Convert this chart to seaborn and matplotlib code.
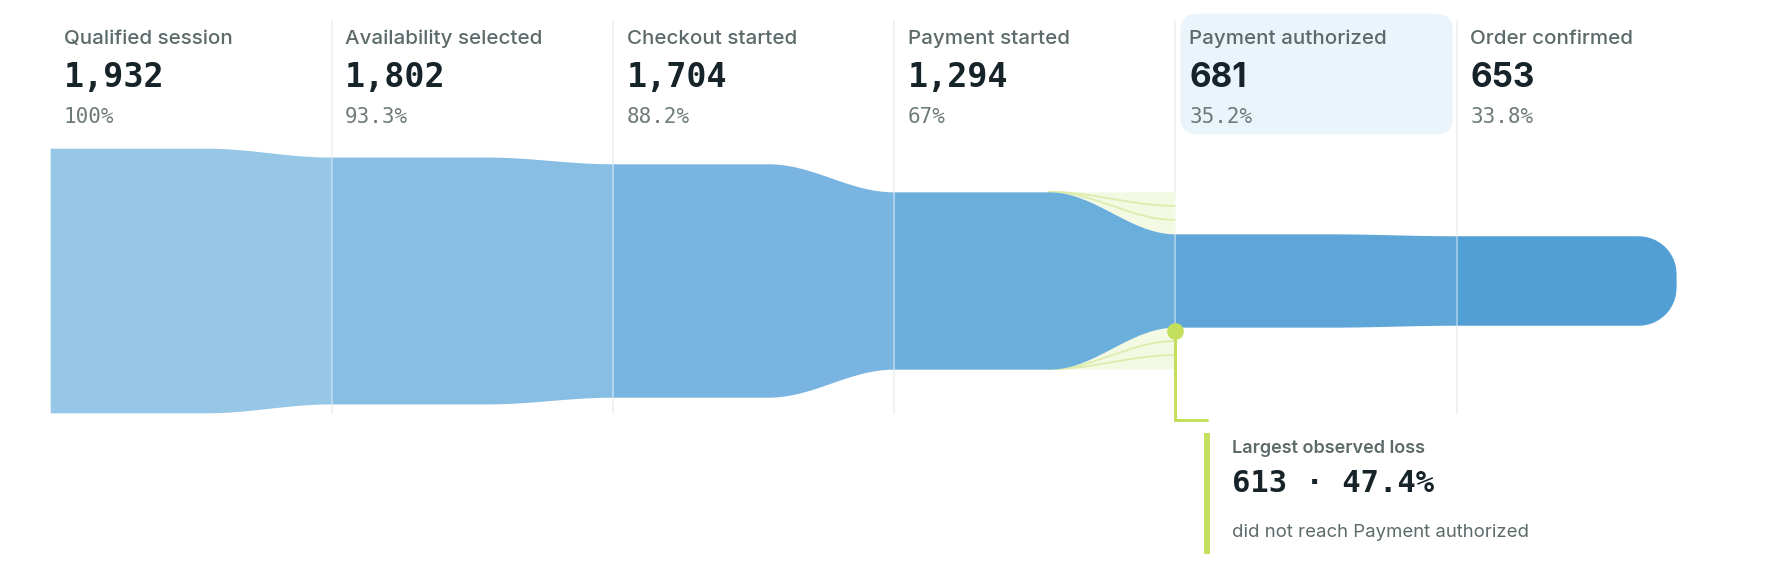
"""
Booking funnel: stage counts with the largest drop-off highlighted
"""
import numpy as np
import matplotlib
matplotlib.use('Agg')
import matplotlib.pyplot as plt
import matplotlib.transforms as mtransforms
from matplotlib.patches import FancyBboxPatch
import seaborn as sns


stages = ['Qualified session', 'Availability selected', 'Checkout started',
          'Payment started', 'Payment authorized', 'Order confirmed']
counts = [1932, 1802, 1704, 1294, 681, 653]
band_colors = ['#97c7e7', '#88bee3', '#79b5e0', '#6aaedb', '#5ea6d8', '#529fd6']
mono_numbers = [True, True, True, True, False, False]

sns.set_style("white")
plt.rcParams['font.family'] = ['Inter', 'DejaVu Sans']

W, H, DPI = 1788, 570, 100
COL = 281.3           # px per stage
X0 = 50.2             # px, left edge of the funnel
YC = 280.5            # px, centre line of the funnel
PX_PER_COUNT = 0.137
TURN = 0.55           # where the taper to the next stage starts

LABEL = '#5c6a6a'
NUMBER = '#16242a'
SHARE = '#6f7b7b'
LOSS_FILL = '#f3f9e3'
LOSS_LINE = '#dcedae'
LIME = '#c4df5c'


def xd(px):
    return (px - X0) / COL


def yd(px):
    return (YC - px) / PX_PER_COUNT


def ease(t):
    return 0.5 - 0.5 * np.cos(np.pi * t)


fig = plt.figure(figsize=(W / DPI, H / DPI), dpi=DPI)
ax = fig.add_axes([0, 0, 1, 1])
ax.set_xlim(xd(0), xd(W))
ax.set_ylim(yd(H), yd(0))
ax.axis('off')

# pixel transform (y from top) for the rounded highlight box
px = mtransforms.Affine2D().scale(1 / DPI, -1 / DPI).translate(0, H / DPI) + fig.dpi_scale_trans

n = len(counts)
drops = -np.diff(counts)
k = int(np.argmax(drops))          # stage before the biggest loss
hi = k + 1

# highlight behind the stage that follows the largest loss
box = FancyBboxPatch((X0 + hi * COL + 5, 13.7), COL - 9, 120.8,
                     boxstyle='round,pad=0,rounding_size=17',
                     transform=px, facecolor='#eaf4fb', edgecolor='none', zorder=0)
ax.add_patch(box)

# funnel bands
for i in range(n):
    half = counts[i] / 2
    if i < n - 1:
        x = np.linspace(i, i + 1, 300)
        t = np.clip((x - i - TURN) / (1 - TURN), 0, 1)
        h = half + (counts[i + 1] / 2 - half) * ease(t)
    else:
        end = i + 0.78
        rx = 38 / COL
        ry = 38 / PX_PER_COUNT
        x = np.linspace(i, end, 400)
        d = np.clip((x - (end - rx)) / rx, 0, 1)
        h = half - ry + ry * np.sqrt(1 - d ** 2)
    ax.fill_between(x, -h, h, color=band_colors[i], lw=0, zorder=2)

# loss wedge around the biggest drop
x = np.linspace(k + TURN, k + 1, 200)
t = (x - k - TURN) / (1 - TURN)
hk, hn = counts[k] / 2, counts[k + 1] / 2
edge = hk + (hn - hk) * ease(t)
ax.fill_between(x, edge, hk, color=LOSS_FILL, lw=0, zorder=1)
ax.fill_between(x, -hk, -edge, color=LOSS_FILL, lw=0, zorder=1)
for f in (1 / 3, 2 / 3):
    y = hk - (hk - hn) * f * ease(t)
    sns.lineplot(x=x, y=y, ax=ax, color=LOSS_LINE, lw=1.3, zorder=1.5)
    sns.lineplot(x=x, y=-y, ax=ax, color=LOSS_LINE, lw=1.3, zorder=1.5)

# stage separators
for i in range(1, n):
    ax.plot([i, i], [yd(21), yd(413)], color='#e2e7ea', lw=1.1, zorder=0.5)
    ax.plot([i, i], [yd(21), yd(413)], color='white', alpha=0.45, lw=1.1, zorder=3)

# stage headers
for i, (name, c) in enumerate(zip(stages, counts)):
    x = i + 13.7 / COL
    share = c / counts[0] * 100
    share_txt = f'{share:.1f}'.rstrip('0').rstrip('.') + '%'
    ax.text(x, yd(44), name, fontsize=14.8, color=LABEL, fontweight='medium',
            ha='left', va='baseline', zorder=4)
    fam = 'DejaVu Sans Mono' if mono_numbers[i] else 'Inter'
    ax.text(x, yd(87), f'{c:,}', fontsize=24, color=NUMBER, fontweight='bold',
            family=fam, ha='left', va='baseline', zorder=4)
    ax.text(x, yd(123), share_txt, fontsize=15, color=SHARE, family='DejaVu Sans Mono',
            ha='left', va='baseline', zorder=4)

# callout for the largest loss
ax.plot([hi], [-hn - 4 / PX_PER_COUNT], 'o', color=LIME, ms=12, mec='none', zorder=5)
ax.plot([hi, hi, xd(1207)], [-hn, yd(420), yd(420)], color=LIME, lw=2.2,
        solid_joinstyle='miter', zorder=4)
ax.plot([xd(1207), xd(1207)], [yd(433), yd(554)], color=LIME, lw=4.3,
        solid_capstyle='butt', zorder=4)

loss = drops[k]
loss_share = loss / counts[k] * 100
tx = xd(1232)
ax.text(tx, yd(453), 'Largest observed loss', fontsize=13, color=LABEL,
        fontweight='semibold', ha='left', va='baseline')
ax.text(tx, yd(492), f'{loss} · {loss_share:.1f}%', fontsize=22, color=NUMBER,
        fontweight='bold', family='DejaVu Sans Mono', ha='left', va='baseline')
ax.text(tx, yd(537), f'did not reach {stages[hi]}', fontsize=13.4, color=LABEL,
        ha='left', va='baseline')

plt.savefig('out.png', dpi=DPI)
